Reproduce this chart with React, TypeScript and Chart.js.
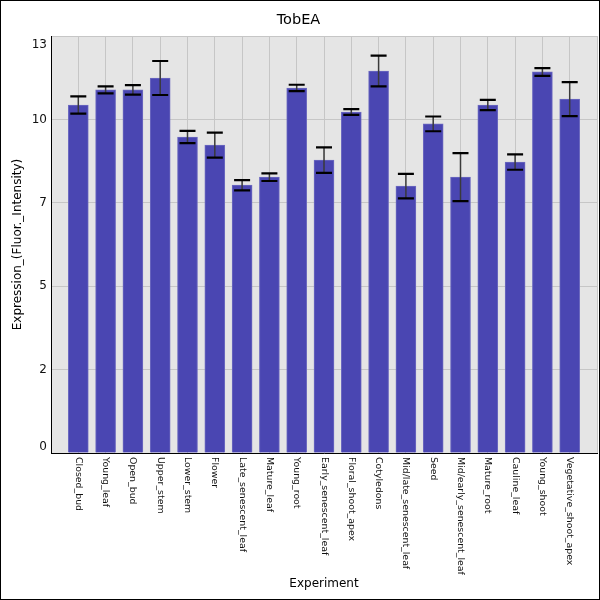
import { useEffect, useRef } from "react"
import { Chart, registerables } from "chart.js"
import type { Plugin } from "chart.js"

Chart.register(...registerables)

const FONT = "DejaVu Sans"

const categories = [
    "Closed_bud", "Young_leaf", "Open_bud", "Upper_stem", "Lower_stem",
    "Flower", "Late_senescent_leaf", "Mature_leaf", "Young_root",
    "Early_senescent_leaf", "Floral_shoot_apex", "Cotyledons",
    "Mid/late_senescent_leaf", "Seed", "Mid/early_senescent_leaf",
    "Mature_root", "Cauline_leaf", "Young_shoot", "Vegetative_shoot_apex"
]
const means = [
    10.85, 11.32, 11.32, 11.69, 9.85, 9.6, 8.35, 8.6, 11.38, 9.13,
    10.63, 11.91, 8.32, 10.26, 8.6, 10.85, 9.07, 11.88, 11.03
]
const errors = [
    0.27, 0.11, 0.15, 0.53, 0.19, 0.39, 0.16, 0.12, 0.1, 0.4,
    0.09, 0.48, 0.38, 0.23, 0.75, 0.16, 0.24, 0.12, 0.53
]
const yMax = 13
const yTickCount = 6

// background, error bars, rotated labels and frame
const decor: Plugin<"bar"> = {
    id: "decor",
    beforeDraw(chart) {
        const { ctx, chartArea: a } = chart
        ctx.save()
        ctx.fillStyle = "#ffffff"
        ctx.fillRect(0, 0, chart.width, chart.height)
        ctx.fillStyle = "#e5e5e5"
        ctx.fillRect(a.left, a.top, a.right - a.left, a.bottom - a.top)
        ctx.restore()
    },
    afterDatasetsDraw(chart) {
        const { ctx } = chart
        const xs = chart.scales.x
        const ys = chart.scales.y
        ctx.save()
        means.forEach((m, i) => {
            const x = xs.getPixelForValue(i)
            const top = ys.getPixelForValue(m + errors[i])
            const bot = ys.getPixelForValue(m - errors[i])
            ctx.strokeStyle = "#3a3a3a"
            ctx.lineWidth = 1.5
            ctx.beginPath()
            ctx.moveTo(x, top)
            ctx.lineTo(x, bot)
            ctx.stroke()
            ctx.strokeStyle = "#000000"
            ctx.lineWidth = 2.2
            ctx.beginPath()
            ctx.moveTo(x - 8, top)
            ctx.lineTo(x + 8, top)
            ctx.moveTo(x - 8, bot)
            ctx.lineTo(x + 8, bot)
            ctx.stroke()
        })
        ctx.restore()
    },
    afterDraw(chart) {
        const { ctx, chartArea: a } = chart
        const xs = chart.scales.x
        const ys = chart.scales.y
        ctx.save()
        ctx.fillStyle = "#111111"
        // x labels, turned clockwise
        ctx.font = `9.4px "${FONT}"`
        ctx.textAlign = "left"
        ctx.textBaseline = "middle"
        categories.forEach((c, i) => {
            ctx.save()
            ctx.translate(xs.getPixelForValue(i), a.bottom + 4)
            ctx.rotate(Math.PI / 2)
            ctx.fillText(c, 0, 0)
            ctx.restore()
        })
        // y labels
        ctx.font = `12px "${FONT}"`
        ctx.textAlign = "right"
        ys.ticks.forEach((t) => {
            let y = ys.getPixelForValue(t.value)
            y = Math.min(Math.max(y, a.top + 9), a.bottom - 6)
            ctx.fillText(String(Math.floor(t.value + 1e-9)), a.left - 4, y)
        })
        ctx.strokeStyle = "#000000"
        ctx.lineWidth = 1
        ctx.strokeRect(0.5, 0.5, chart.width - 1, chart.height - 1)
        ctx.restore()
    }
}

export default function App() {
    const canvasRef = useRef<HTMLCanvasElement>(null)

    useEffect(() => {
        document.body.style.margin = "0"
        if (!canvasRef.current) return
        const chart = new Chart(canvasRef.current, {
            type: "bar",
            data: {
                datasets: [
                    {
                        label: "TobEA",
                        data: means.map((m, i) => ({ x: i, y: m })),
                        backgroundColor: "#4a46b2",
                        borderColor: "#6d6ac0",
                        borderWidth: 1,
                        barThickness: 20
                    }
                ]
            },
            options: {
                animation: false,
                responsive: false,
                layout: { padding: { left: 0, right: 3, top: 0, bottom: 0 } },
                plugins: {
                    legend: { display: false },
                    tooltip: { enabled: false },
                    title: {
                        display: true,
                        text: "TobEA",
                        color: "#000",
                        font: { family: FONT, size: 14.5, weight: "normal" },
                        padding: { top: 11.6, bottom: 7 }
                    }
                },
                scales: {
                    x: {
                        type: "linear",
                        min: -1,
                        max: categories.length,
                        offset: false,
                        ticks: { display: false, stepSize: 1 },
                        grid: { color: "#c6c6c6", drawTicks: false, offset: false },
                        border: { color: "#000", width: 1, z: 1 },
                        title: {
                            display: true,
                            text: "Experiment",
                            color: "#000",
                            font: { family: FONT, size: 12 },
                            padding: { top: 0, bottom: 9 }
                        },
                        afterFit: (s) => {
                            s.height = 147
                        }
                    },
                    y: {
                        min: 0,
                        max: yMax,
                        ticks: { display: false, count: yTickCount },
                        grid: { color: "#c6c6c6", drawTicks: false },
                        border: { color: "#000", width: 1, z: 1 },
                        title: {
                            display: true,
                            text: "Expression_(Fluor._Intensity)",
                            color: "#000",
                            font: { family: FONT, size: 12 },
                            padding: { top: 11, bottom: 0 }
                        },
                        afterFit: (s) => {
                            s.width = 51
                        }
                    }
                }
            },
            plugins: [decor]
        })
        return () => chart.destroy()
    }, [])

    return <canvas ref={canvasRef} width={600} height={600}></canvas>
}
